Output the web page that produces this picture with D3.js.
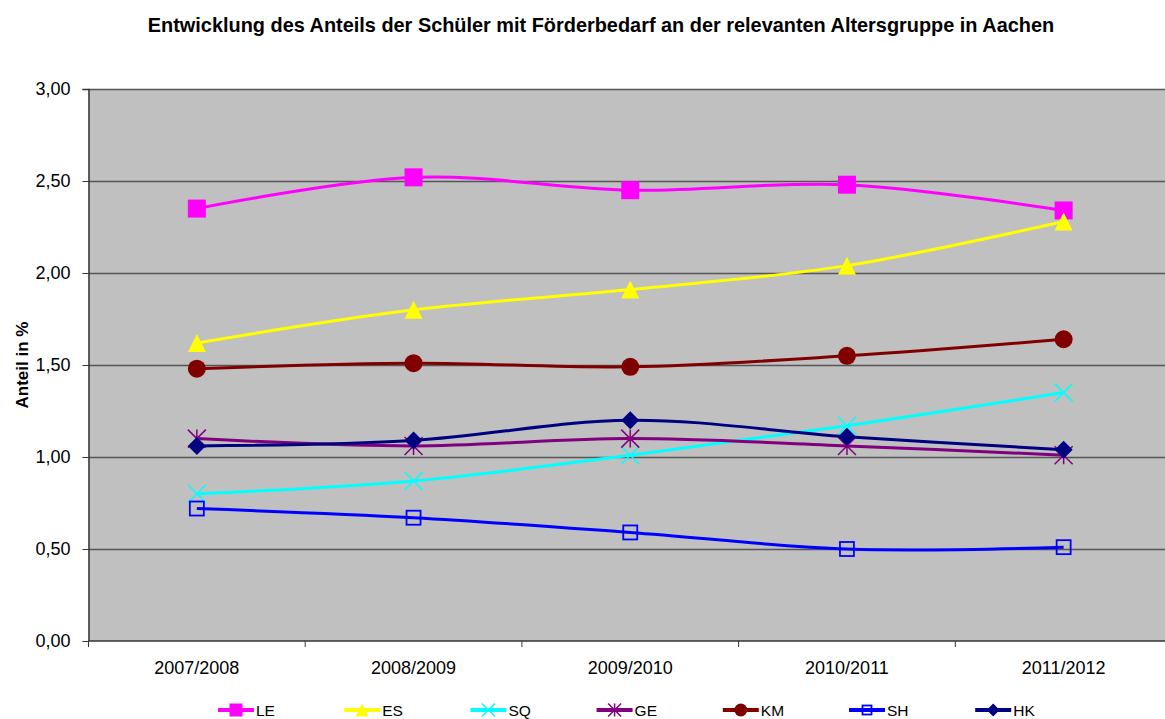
<!DOCTYPE html>
<html>
<head>
<meta charset="utf-8">
<script src="https://cdn.jsdelivr.net/npm/d3@7"></script>
<style>
  body { margin: 0; background: #fff; }
  svg { display: block; font-family: "Liberation Sans", Arial, sans-serif; }
</style>
</head>
<body>
<svg id="chart" width="1165" height="719"></svg>
<script>
// Schüler mit Förderbedarf, Anteil an der Altersgruppe (Aachen)
const years = ['2007/2008', '2008/2009', '2009/2010', '2010/2011', '2011/2012'];
const yTicks = [0, 0.5, 1, 1.5, 2, 2.5, 3];

const seriesLE = [2.35, 2.52, 2.45, 2.48, 2.34];
const seriesES = [1.62, 1.80, 1.91, 2.04, 2.28];
const seriesSQ = [0.80, 0.87, 1.01, 1.17, 1.35];
const seriesGE = [1.10, 1.06, 1.10, 1.06, 1.01];
const seriesKM = [1.48, 1.51, 1.49, 1.55, 1.64];
const seriesSH = [0.72, 0.67, 0.59, 0.50, 0.51];
const seriesHK = [1.06, 1.09, 1.20, 1.11, 1.04];

const series = [
  { name: 'LE', values: seriesLE, color: '#ff00ff', marker: 'square' },
  { name: 'ES', values: seriesES, color: '#ffff00', marker: 'triangle' },
  { name: 'SQ', values: seriesSQ, color: '#00ffff', marker: 'x' },
  { name: 'GE', values: seriesGE, color: '#800080', marker: 'star' },
  { name: 'KM', values: seriesKM, color: '#800000', marker: 'circle' },
  { name: 'SH', values: seriesSH, color: '#0000ff', marker: 'hollowSquare' },
  { name: 'HK', values: seriesHK, color: '#000080', marker: 'diamond' }
];

const svg = d3.select('#chart');
const margin = { top: 89, left: 88.5 };
const plotW = 1083.5;
const plotH = 552;

svg.append('text')
  .attr('x', 601).attr('y', 32)
  .attr('text-anchor', 'middle')
  .attr('font-size', 19.9).attr('font-weight', 'bold')
  .text('Entwicklung des Anteils der Schüler mit Förderbedarf an der relevanten Altersgruppe in Aachen');

const x = d3.scaleBand().domain(years).range([0, plotW]);
const y = d3.scaleLinear().domain([0, 3]).range([plotH, 0]);

const g = svg.append('g').attr('transform', `translate(${margin.left},${margin.top})`);

g.append('rect')
  .attr('width', plotW).attr('height', plotH)
  .attr('fill', '#c0c0c0');

// gridlines
g.selectAll('.grid').data(yTicks.filter(d => d > 0)).join('line')
  .attr('class', 'grid')
  .attr('x1', 0).attr('x2', plotW)
  .attr('y1', d => Math.round(y(d)) + 0.5).attr('y2', d => Math.round(y(d)) + 0.5)
  .attr('stroke', '#555').attr('stroke-width', 1.3);

// y axis
const yAxis = d3.axisLeft(y).tickValues(yTicks).tickSize(6).tickPadding(12)
  .tickFormat(d => d3.format('.2f')(d).replace('.', ','));
g.append('g').call(yAxis)
  .call(s => s.select('.domain').attr('stroke', '#333').attr('stroke-width', 1.5).attr('d', `M-6,0.5H0.5V${plotH}`))
  .call(s => s.selectAll('.tick line').attr('stroke', '#333'))
  .call(s => s.selectAll('.tick text').attr('font-size', 18).attr('fill', '#000')
    .attr('font-family', '"Liberation Sans", Arial, sans-serif'));

// x axis
g.append('line')
  .attr('x1', 0).attr('x2', plotW).attr('y1', plotH).attr('y2', plotH)
  .attr('stroke', '#333').attr('stroke-width', 1.5);
const bounds = d3.range(years.length + 1).map(i => i * x.step());
g.selectAll('.xtick').data(bounds).join('line')
  .attr('class', 'xtick')
  .attr('x1', d => d).attr('x2', d => d)
  .attr('y1', plotH).attr('y2', plotH + 6)
  .attr('stroke', '#333').attr('stroke-width', 1);
g.selectAll('.xlabel').data(years).join('text')
  .attr('class', 'xlabel')
  .attr('x', d => x(d) + x.bandwidth() / 2)
  .attr('y', plotH + 33)
  .attr('text-anchor', 'middle').attr('font-size', 18)
  .text(d => d);

svg.append('text')
  .attr('transform', 'translate(28,365) rotate(-90)')
  .attr('text-anchor', 'middle')
  .attr('font-size', 17).attr('font-weight', 'bold')
  .text('Anteil in %');

function drawMarker(sel, s, size) {
  const h = size / 2;
  if (s.marker === 'square') {
    sel.append('rect').attr('x', -h).attr('y', -h).attr('width', size).attr('height', size).attr('fill', s.color);
  } else if (s.marker === 'hollowSquare') {
    sel.append('rect').attr('x', -h + 1).attr('y', -h + 1).attr('width', size - 2).attr('height', size - 2)
      .attr('fill', 'none').attr('stroke', s.color).attr('stroke-width', 1.8);
  } else if (s.marker === 'triangle') {
    sel.append('path').attr('d', `M0,${-h}L${h},${h}L${-h},${h}Z`).attr('fill', s.color);
  } else if (s.marker === 'circle') {
    sel.append('circle').attr('r', h).attr('fill', s.color);
  } else if (s.marker === 'diamond') {
    sel.append('path').attr('d', `M0,${-h}L${h},0L0,${h}L${-h},0Z`).attr('fill', s.color);
  } else if (s.marker === 'x') {
    sel.append('path').attr('d', `M${-h},${-h}L${h},${h}M${h},${-h}L${-h},${h}`)
      .attr('stroke', s.color).attr('stroke-width', 1.5);
  } else if (s.marker === 'star') {
    sel.append('path').attr('d', `M${-h},${-h}L${h},${h}M${h},${-h}L${-h},${h}M0,${-h}V${h}`)
      .attr('stroke', s.color).attr('stroke-width', 1.5);
  }
}

const line = d3.line()
  .curve(d3.curveCatmullRom.alpha(0.5))
  .x((d, i) => x(years[i]) + x.bandwidth() / 2)
  .y(d => y(d));

series.forEach(s => {
  const sg = g.append('g');
  sg.append('path')
    .attr('d', line(s.values))
    .attr('fill', 'none').attr('stroke', s.color).attr('stroke-width', 3);
  s.values.forEach((v, i) => {
    const m = sg.append('g')
      .attr('transform', `translate(${x(years[i]) + x.bandwidth() / 2},${y(v)})`);
    drawMarker(m, s, s.marker === 'hollowSquare' ? 16 : 18);
  });
});

// legend
const legend = svg.append('g').attr('transform', 'translate(218,710)');
series.forEach((s, i) => {
  const lg = legend.append('g').attr('transform', `translate(${i * 126.2},0)`);
  lg.append('line').attr('x1', 0).attr('x2', 36).attr('y1', 0).attr('y2', 0)
    .attr('stroke', s.color).attr('stroke-width', 4);
  const m = lg.append('g').attr('transform', 'translate(18,0)');
  drawMarker(m, s, s.marker === 'hollowSquare' ? 11 : 13);
  lg.append('text').attr('x', 38).attr('y', 6).attr('font-size', 15.5).text(s.name);
});
</script>
</body>
</html>
